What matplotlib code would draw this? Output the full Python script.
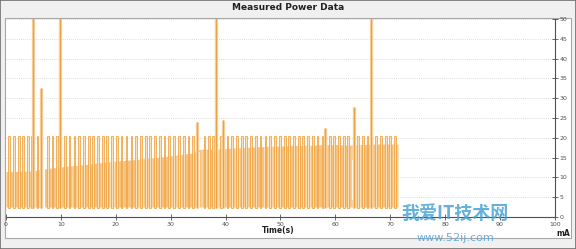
import matplotlib
matplotlib.use("Agg")
import matplotlib.pyplot as plt
from matplotlib.patches import Rectangle

# values (time in s, current in mA)
base_mA = 2.4
pulse_top = 20.4

# level of the dense low part of the trace
body_t = [0, 5, 7, 10, 15, 20, 25, 30, 34, 35.5, 38, 42, 46, 50, 55, 60, 63, 65, 68, 71.5]
body_mA = [11.3, 11.5, 12.0, 12.5, 13.2, 14.0, 14.5, 15.3, 16.0, 17.0, 17.0, 17.3, 17.6, 17.8, 18.0, 18.2, 18.0, 18.2, 18.3, 18.3]

# regular ~20 mA pulses
pulse_t = [0.4, 1.3, 2.2, 3.0, 3.9, 4.6, 5.6, 7.5, 8.3, 9.2, 10.6, 11.4, 12.3, 13.1,
           14.0, 14.9, 15.7, 16.6, 17.5, 18.3, 19.2, 20.1, 20.9, 21.8, 22.7, 23.5,
           24.4, 25.3, 26.1, 27.0, 27.9, 28.7, 29.6, 30.5, 31.3, 32.2, 33.1, 33.9,
           36.0, 36.8, 37.6, 39.0, 40.2, 41.0, 41.9, 42.8, 43.6, 44.5, 45.4, 46.2,
           47.1, 48.0, 48.8, 49.7, 50.6, 51.4, 52.3, 53.2, 54.0, 54.9, 55.8, 56.6,
           57.5, 58.8, 59.6, 60.5, 61.4, 62.2, 64.0, 64.9, 65.7, 67.2, 68.1, 69.0,
           69.8, 70.7]

# taller spikes
spike_t = [4.9, 6.4, 9.8, 34.8, 38.3, 39.5, 58.1, 63.4, 66.5]
spike_mA = [55, 32.5, 55, 24.0, 55, 24.5, 22.5, 27.8, 55]

# white holes in the trace
gap_t = [6.9, 35.1, 63.2]
gap_lo = [2.4, 2.4, 4.3]
gap_hi = [12.0, 16.5, 14.4]

xticks = list(range(0, 101, 10))
yticks = list(range(0, 51, 5))

orange = "#F0A23E"
pale = "#FBE1BB"
body_col = "#F6C27E"

plt.rcParams["hatch.linewidth"] = 0.6

fig = plt.figure(figsize=(5.76, 2.49), dpi=100)
fig.patch.set_facecolor("#F0F0F0")
panel = Rectangle((0.0087, 0.0442), 0.982, 0.8835, transform=fig.transFigure,
                  facecolor="white", edgecolor="#A8A8A8", lw=0.8, zorder=-10)
fig.patches.append(panel)
border = Rectangle((0, 0), 1, 1, transform=fig.transFigure, fill=False,
                   edgecolor="#707070", lw=1.2, zorder=10)
fig.patches.append(border)

ax = fig.add_axes([0.0104, 0.1285, 0.953, 0.795])
ax.set_zorder(1)
ax.set_facecolor("none")

ax.fill_between(body_t, base_mA, body_mA, facecolor=body_col, edgecolor="#FCE6C8",
                hatch="||||", lw=0, zorder=2)
ax.bar(pulse_t, pulse_top - base_mA, bottom=base_mA, width=0.32, align="edge",
       facecolor=pale, edgecolor=orange, lw=0.6, zorder=3, alpha=0.95)
ax.bar(gap_t, [h - l for h, l in zip(gap_hi, gap_lo)], bottom=gap_lo, width=0.45,
       color="white", lw=0, zorder=4)
ax.vlines(spike_t, base_mA, spike_mA, color="#F8D09A", lw=2.4, zorder=5)
ax.vlines(spike_t, base_mA, spike_mA, color="#EBA245", lw=0.8, zorder=6)

ax.set_xlim(0, 100)
ax.set_ylim(0, 50)
ax.set_xticks(xticks)
ax.set_yticks(yticks)
ax.yaxis.tick_right()
ax.tick_params(axis="both", direction="inout", length=4, width=0.6, colors="#505050",
               labelsize=4.5, pad=1.5)
for side in ["top", "left"]:
    ax.spines[side].set_visible(False)
for side in ["bottom", "right"]:
    ax.spines[side].set_color("#505050")
    ax.spines[side].set_linewidth(0.8)

ax.grid(axis="y", linestyle=(0, (1, 1.5)), color="#D0D0D0", lw=0.6, zorder=1)
ax.set_axisbelow(True)

fig.text(0.5, 0.968, "Measured Power Data", ha="center", va="center",
         fontsize=6.5, fontweight="bold", color="#202020")
fig.text(0.483, 0.076, "Time(s)", ha="center", va="center", fontsize=5.5,
         fontweight="bold", color="#202020")
fig.text(0.977, 0.064, "mA", ha="center", va="center", fontsize=5.5,
         fontweight="bold", color="#202020")

# site watermark
fig.text(0.79, 0.145, "我爱IT技术网", ha="center", va="center", fontsize=13,
         fontweight="bold", color="#4AA3D6", alpha=0.85, zorder=5,
         family=["Noto Sans CJK SC", "DejaVu Sans"])
fig.text(0.79, 0.045, "www.52ij.com", ha="center", va="center", fontsize=8,
         color="#4AA3D6", alpha=0.85, zorder=5)

fig.savefig("out.png", dpi=100, facecolor=fig.get_facecolor())
